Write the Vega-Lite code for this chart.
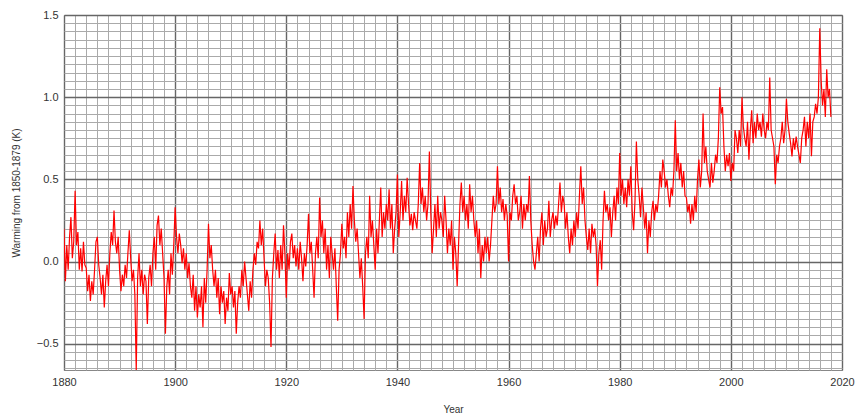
{
"$schema": "https://vega.github.io/schema/vega-lite/v6.json",
"width": 778, "height": 355,
"autosize": {"type": "none"},
"padding": {"left": 64, "top": 15, "right": 16, "bottom": 46},
"background": "white",
"config": {"view": {"stroke": "#888888", "strokeWidth": 1}, "font": "Liberation Sans"},
"data": {"values": [
{"t":1880,"v":0.20},{"t":1880.25,"v":-0.12},{"t":1880.5,"v":0.10},{"t":1880.75,"v":-0.05},
{"t":1881,"v":0.15},{"t":1881.25,"v":0.27},{"t":1881.5,"v":0.02},{"t":1881.75,"v":0.12},
{"t":1882,"v":0.43},{"t":1882.25,"v":0.10},{"t":1882.5,"v":0.18},{"t":1882.75,"v":-0.05},
{"t":1883,"v":0.08},{"t":1883.25,"v":-0.06},{"t":1883.5,"v":0.12},{"t":1883.75,"v":-0.02},
{"t":1884,"v":-0.04},{"t":1884.25,"v":-0.18},{"t":1884.5,"v":-0.08},{"t":1884.75,"v":-0.24},
{"t":1885,"v":-0.12},{"t":1885.25,"v":-0.20},{"t":1885.5,"v":-0.05},{"t":1885.75,"v":0.12},
{"t":1886,"v":0.15},{"t":1886.25,"v":-0.02},{"t":1886.5,"v":-0.10},{"t":1886.75,"v":-0.20},
{"t":1887,"v":-0.08},{"t":1887.25,"v":-0.28},{"t":1887.5,"v":-0.12},{"t":1887.75,"v":-0.02},
{"t":1888,"v":-0.15},{"t":1888.25,"v":0.05},{"t":1888.5,"v":0.18},{"t":1888.75,"v":0.10},
{"t":1889,"v":0.31},{"t":1889.25,"v":0.12},{"t":1889.5,"v":0.05},{"t":1889.75,"v":0.15},
{"t":1890,"v":-0.05},{"t":1890.25,"v":-0.18},{"t":1890.5,"v":-0.08},{"t":1890.75,"v":-0.15},
{"t":1891,"v":-0.02},{"t":1891.25,"v":-0.10},{"t":1891.5,"v":0.05},{"t":1891.75,"v":0.19},
{"t":1892,"v":0.02},{"t":1892.25,"v":-0.12},{"t":1892.5,"v":-0.05},{"t":1892.75,"v":-0.20},
{"t":1893,"v":-0.66},{"t":1893.25,"v":-0.10},{"t":1893.5,"v":0.05},{"t":1893.75,"v":-0.15},
{"t":1894,"v":-0.05},{"t":1894.25,"v":-0.20},{"t":1894.5,"v":-0.08},{"t":1894.75,"v":-0.12},
{"t":1895,"v":-0.38},{"t":1895.25,"v":-0.10},{"t":1895.5,"v":-0.02},{"t":1895.75,"v":-0.15},
{"t":1896,"v":0.05},{"t":1896.25,"v":0.15},{"t":1896.5,"v":-0.05},{"t":1896.75,"v":0.22},
{"t":1897,"v":0.28},{"t":1897.25,"v":0.10},{"t":1897.5,"v":0.20},{"t":1897.75,"v":0.05},
{"t":1898,"v":-0.10},{"t":1898.25,"v":-0.44},{"t":1898.5,"v":-0.15},{"t":1898.75,"v":-0.05},
{"t":1899,"v":-0.20},{"t":1899.25,"v":0.05},{"t":1899.5,"v":-0.08},{"t":1899.75,"v":0.10},
{"t":1900,"v":0.33},{"t":1900.25,"v":0.15},{"t":1900.5,"v":0.05},{"t":1900.75,"v":0.17},
{"t":1901,"v":0.10},{"t":1901.25,"v":-0.01},{"t":1901.5,"v":0.08},{"t":1901.75,"v":-0.05},
{"t":1902,"v":0.05},{"t":1902.25,"v":-0.10},{"t":1902.5,"v":-0.01},{"t":1902.75,"v":-0.15},
{"t":1903,"v":-0.22},{"t":1903.25,"v":-0.08},{"t":1903.5,"v":-0.30},{"t":1903.75,"v":-0.15},
{"t":1904,"v":-0.34},{"t":1904.25,"v":-0.20},{"t":1904.5,"v":-0.28},{"t":1904.75,"v":-0.15},
{"t":1905,"v":-0.40},{"t":1905.25,"v":-0.10},{"t":1905.5,"v":-0.25},{"t":1905.75,"v":-0.05},
{"t":1906,"v":0.23},{"t":1906.25,"v":0.02},{"t":1906.5,"v":0.10},{"t":1906.75,"v":-0.05},
{"t":1907,"v":-0.15},{"t":1907.25,"v":-0.05},{"t":1907.5,"v":-0.22},{"t":1907.75,"v":-0.10},
{"t":1908,"v":-0.32},{"t":1908.25,"v":-0.15},{"t":1908.5,"v":-0.25},{"t":1908.75,"v":-0.18},
{"t":1909,"v":-0.38},{"t":1909.25,"v":-0.22},{"t":1909.5,"v":-0.30},{"t":1909.75,"v":-0.07},
{"t":1910,"v":-0.20},{"t":1910.25,"v":-0.15},{"t":1910.5,"v":-0.28},{"t":1910.75,"v":-0.18},
{"t":1911,"v":-0.44},{"t":1911.25,"v":-0.25},{"t":1911.5,"v":-0.15},{"t":1911.75,"v":-0.22},
{"t":1912,"v":-0.05},{"t":1912.25,"v":-0.15},{"t":1912.5,"v":0.00},{"t":1912.75,"v":-0.10},
{"t":1913,"v":-0.20},{"t":1913.25,"v":-0.30},{"t":1913.5,"v":-0.12},{"t":1913.75,"v":-0.22},
{"t":1914,"v":-0.05},{"t":1914.25,"v":0.05},{"t":1914.5,"v":-0.02},{"t":1914.75,"v":0.12},
{"t":1915,"v":0.08},{"t":1915.25,"v":0.25},{"t":1915.5,"v":0.10},{"t":1915.75,"v":0.20},
{"t":1916,"v":0.02},{"t":1916.25,"v":-0.15},{"t":1916.5,"v":-0.05},{"t":1916.75,"v":-0.10},
{"t":1917,"v":-0.25},{"t":1917.25,"v":-0.52},{"t":1917.5,"v":-0.10},{"t":1917.75,"v":0.05},
{"t":1918,"v":0.17},{"t":1918.25,"v":-0.05},{"t":1918.5,"v":0.07},{"t":1918.75,"v":-0.10},
{"t":1919,"v":0.10},{"t":1919.25,"v":-0.05},{"t":1919.5,"v":0.22},{"t":1919.75,"v":0.05},
{"t":1920,"v":-0.22},{"t":1920.25,"v":0.05},{"t":1920.5,"v":-0.05},{"t":1920.75,"v":0.12},
{"t":1921,"v":0.17},{"t":1921.25,"v":0.02},{"t":1921.5,"v":0.10},{"t":1921.75,"v":-0.03},
{"t":1922,"v":0.08},{"t":1922.25,"v":-0.05},{"t":1922.5,"v":0.12},{"t":1922.75,"v":0.02},
{"t":1923,"v":-0.12},{"t":1923.25,"v":0.05},{"t":1923.5,"v":-0.03},{"t":1923.75,"v":0.10},
{"t":1924,"v":0.29},{"t":1924.25,"v":0.05},{"t":1924.5,"v":0.12},{"t":1924.75,"v":-0.05},
{"t":1925,"v":-0.22},{"t":1925.25,"v":0.05},{"t":1925.5,"v":0.15},{"t":1925.75,"v":0.02},
{"t":1926,"v":0.39},{"t":1926.25,"v":0.15},{"t":1926.5,"v":0.25},{"t":1926.75,"v":0.05},
{"t":1927,"v":0.20},{"t":1927.25,"v":-0.05},{"t":1927.5,"v":0.10},{"t":1927.75,"v":-0.10},
{"t":1928,"v":0.15},{"t":1928.25,"v":0.05},{"t":1928.5,"v":-0.05},{"t":1928.75,"v":0.08},
{"t":1929,"v":-0.15},{"t":1929.25,"v":-0.36},{"t":1929.5,"v":-0.05},{"t":1929.75,"v":0.05},
{"t":1930,"v":0.23},{"t":1930.25,"v":0.08},{"t":1930.5,"v":0.15},{"t":1930.75,"v":0.02},
{"t":1931,"v":0.30},{"t":1931.25,"v":0.15},{"t":1931.5,"v":0.35},{"t":1931.75,"v":0.20},
{"t":1932,"v":0.46},{"t":1932.25,"v":0.25},{"t":1932.5,"v":0.12},{"t":1932.75,"v":0.20},
{"t":1933,"v":0.05},{"t":1933.25,"v":-0.10},{"t":1933.5,"v":0.02},{"t":1933.75,"v":-0.15},
{"t":1934,"v":-0.35},{"t":1934.25,"v":0.05},{"t":1934.5,"v":0.15},{"t":1934.75,"v":0.02},
{"t":1935,"v":0.40},{"t":1935.25,"v":0.15},{"t":1935.5,"v":0.25},{"t":1935.75,"v":0.10},
{"t":1936,"v":-0.05},{"t":1936.25,"v":0.20},{"t":1936.5,"v":0.05},{"t":1936.75,"v":0.25},
{"t":1937,"v":0.45},{"t":1937.25,"v":0.15},{"t":1937.5,"v":0.30},{"t":1937.75,"v":0.20},
{"t":1938,"v":0.35},{"t":1938.25,"v":0.25},{"t":1938.5,"v":0.44},{"t":1938.75,"v":0.20},
{"t":1939,"v":0.35},{"t":1939.25,"v":0.05},{"t":1939.5,"v":0.20},{"t":1939.75,"v":0.30},
{"t":1940,"v":0.53},{"t":1940.25,"v":0.15},{"t":1940.5,"v":0.30},{"t":1940.75,"v":0.49},
{"t":1941,"v":0.25},{"t":1941.25,"v":0.40},{"t":1941.5,"v":0.30},{"t":1941.75,"v":0.51},
{"t":1942,"v":0.35},{"t":1942.25,"v":0.22},{"t":1942.5,"v":0.29},{"t":1942.75,"v":0.19},
{"t":1943,"v":0.30},{"t":1943.25,"v":0.25},{"t":1943.5,"v":0.20},{"t":1943.75,"v":0.35},
{"t":1944,"v":0.60},{"t":1944.25,"v":0.35},{"t":1944.5,"v":0.45},{"t":1944.75,"v":0.30},
{"t":1945,"v":0.40},{"t":1945.25,"v":0.25},{"t":1945.5,"v":0.35},{"t":1945.75,"v":0.67},
{"t":1946,"v":0.30},{"t":1946.25,"v":0.05},{"t":1946.5,"v":0.20},{"t":1946.75,"v":0.35},
{"t":1947,"v":0.15},{"t":1947.25,"v":0.40},{"t":1947.5,"v":0.20},{"t":1947.75,"v":0.30},
{"t":1948,"v":0.25},{"t":1948.25,"v":0.15},{"t":1948.5,"v":0.40},{"t":1948.75,"v":0.25},
{"t":1949,"v":0.05},{"t":1949.25,"v":0.20},{"t":1949.5,"v":0.10},{"t":1949.75,"v":0.25},
{"t":1950,"v":-0.05},{"t":1950.25,"v":0.15},{"t":1950.5,"v":0.05},{"t":1950.75,"v":-0.15},
{"t":1951,"v":0.10},{"t":1951.25,"v":0.35},{"t":1951.5,"v":0.48},{"t":1951.75,"v":0.30},
{"t":1952,"v":0.40},{"t":1952.25,"v":0.25},{"t":1952.5,"v":0.35},{"t":1952.75,"v":0.20},
{"t":1953,"v":0.47},{"t":1953.25,"v":0.30},{"t":1953.5,"v":0.40},{"t":1953.75,"v":0.25},
{"t":1954,"v":0.15},{"t":1954.25,"v":0.25},{"t":1954.5,"v":0.05},{"t":1954.75,"v":0.20},
{"t":1955,"v":-0.10},{"t":1955.25,"v":0.10},{"t":1955.5,"v":0.00},{"t":1955.75,"v":0.15},
{"t":1956,"v":0.05},{"t":1956.25,"v":0.15},{"t":1956.5,"v":0.00},{"t":1956.75,"v":0.10},
{"t":1957,"v":0.25},{"t":1957.25,"v":0.40},{"t":1957.5,"v":0.30},{"t":1957.75,"v":0.35},
{"t":1958,"v":0.58},{"t":1958.25,"v":0.35},{"t":1958.5,"v":0.45},{"t":1958.75,"v":0.30},
{"t":1959,"v":0.38},{"t":1959.25,"v":0.25},{"t":1959.5,"v":0.35},{"t":1959.75,"v":0.28},
{"t":1960,"v":0.00},{"t":1960.25,"v":0.30},{"t":1960.5,"v":0.25},{"t":1960.75,"v":0.40},
{"t":1961,"v":0.47},{"t":1961.25,"v":0.35},{"t":1961.5,"v":0.40},{"t":1961.75,"v":0.25},
{"t":1962,"v":0.30},{"t":1962.25,"v":0.40},{"t":1962.5,"v":0.20},{"t":1962.75,"v":0.35},
{"t":1963,"v":0.25},{"t":1963.25,"v":0.35},{"t":1963.5,"v":0.30},{"t":1963.75,"v":0.52},
{"t":1964,"v":0.25},{"t":1964.25,"v":0.10},{"t":1964.5,"v":0.00},{"t":1964.75,"v":-0.05},
{"t":1965,"v":0.05},{"t":1965.25,"v":0.15},{"t":1965.5,"v":0.00},{"t":1965.75,"v":0.20},
{"t":1966,"v":0.30},{"t":1966.25,"v":0.10},{"t":1966.5,"v":0.25},{"t":1966.75,"v":0.15},
{"t":1967,"v":0.20},{"t":1967.25,"v":0.37},{"t":1967.5,"v":0.15},{"t":1967.75,"v":0.25},
{"t":1968,"v":0.30},{"t":1968.25,"v":0.20},{"t":1968.5,"v":0.28},{"t":1968.75,"v":0.22},
{"t":1969,"v":0.35},{"t":1969.25,"v":0.48},{"t":1969.5,"v":0.30},{"t":1969.75,"v":0.40},
{"t":1970,"v":0.35},{"t":1970.25,"v":0.20},{"t":1970.5,"v":0.30},{"t":1970.75,"v":0.15},
{"t":1971,"v":0.05},{"t":1971.25,"v":0.20},{"t":1971.5,"v":0.10},{"t":1971.75,"v":0.25},
{"t":1972,"v":0.15},{"t":1972.25,"v":0.30},{"t":1972.5,"v":0.20},{"t":1972.75,"v":0.40},
{"t":1973,"v":0.58},{"t":1973.25,"v":0.35},{"t":1973.5,"v":0.45},{"t":1973.75,"v":0.25},
{"t":1974,"v":0.15},{"t":1974.25,"v":0.07},{"t":1974.5,"v":0.20},{"t":1974.75,"v":0.05},
{"t":1975,"v":0.23},{"t":1975.25,"v":0.15},{"t":1975.5,"v":0.20},{"t":1975.75,"v":0.10},
{"t":1976,"v":-0.15},{"t":1976.25,"v":0.05},{"t":1976.5,"v":0.13},{"t":1976.75,"v":-0.05},
{"t":1977,"v":0.25},{"t":1977.25,"v":0.43},{"t":1977.5,"v":0.30},{"t":1977.75,"v":0.35},
{"t":1978,"v":0.25},{"t":1978.25,"v":0.33},{"t":1978.5,"v":0.15},{"t":1978.75,"v":0.30},
{"t":1979,"v":0.40},{"t":1979.25,"v":0.25},{"t":1979.5,"v":0.45},{"t":1979.75,"v":0.35},
{"t":1980,"v":0.66},{"t":1980.25,"v":0.40},{"t":1980.5,"v":0.50},{"t":1980.75,"v":0.35},
{"t":1981,"v":0.45},{"t":1981.25,"v":0.33},{"t":1981.5,"v":0.50},{"t":1981.75,"v":0.40},
{"t":1982,"v":0.58},{"t":1982.25,"v":0.30},{"t":1982.5,"v":0.19},{"t":1982.75,"v":0.37},
{"t":1983,"v":0.73},{"t":1983.25,"v":0.50},{"t":1983.5,"v":0.40},{"t":1983.75,"v":0.27},
{"t":1984,"v":0.45},{"t":1984.25,"v":0.33},{"t":1984.5,"v":0.20},{"t":1984.75,"v":0.30},
{"t":1985,"v":0.05},{"t":1985.25,"v":0.25},{"t":1985.5,"v":0.15},{"t":1985.75,"v":0.30},
{"t":1986,"v":0.37},{"t":1986.25,"v":0.25},{"t":1986.5,"v":0.35},{"t":1986.75,"v":0.30},
{"t":1987,"v":0.40},{"t":1987.25,"v":0.55},{"t":1987.5,"v":0.45},{"t":1987.75,"v":0.62},
{"t":1988,"v":0.55},{"t":1988.25,"v":0.45},{"t":1988.5,"v":0.50},{"t":1988.75,"v":0.40},
{"t":1989,"v":0.33},{"t":1989.25,"v":0.45},{"t":1989.5,"v":0.40},{"t":1989.75,"v":0.55},
{"t":1990,"v":0.86},{"t":1990.25,"v":0.55},{"t":1990.5,"v":0.66},{"t":1990.75,"v":0.50},
{"t":1991,"v":0.60},{"t":1991.25,"v":0.45},{"t":1991.5,"v":0.55},{"t":1991.75,"v":0.40},
{"t":1992,"v":0.39},{"t":1992.25,"v":0.30},{"t":1992.5,"v":0.35},{"t":1992.75,"v":0.23},
{"t":1993,"v":0.35},{"t":1993.25,"v":0.25},{"t":1993.5,"v":0.40},{"t":1993.75,"v":0.30},
{"t":1994,"v":0.50},{"t":1994.25,"v":0.62},{"t":1994.5,"v":0.45},{"t":1994.75,"v":0.55},
{"t":1995,"v":0.90},{"t":1995.25,"v":0.60},{"t":1995.5,"v":0.70},{"t":1995.75,"v":0.55},
{"t":1996,"v":0.50},{"t":1996.25,"v":0.45},{"t":1996.5,"v":0.60},{"t":1996.75,"v":0.48},
{"t":1997,"v":0.55},{"t":1997.25,"v":0.65},{"t":1997.5,"v":0.60},{"t":1997.75,"v":0.75},
{"t":1998,"v":1.06},{"t":1998.25,"v":0.90},{"t":1998.5,"v":0.94},{"t":1998.75,"v":0.70},
{"t":1999,"v":0.55},{"t":1999.25,"v":0.65},{"t":1999.5,"v":0.58},{"t":1999.75,"v":0.66},
{"t":2000,"v":0.49},{"t":2000.25,"v":0.60},{"t":2000.5,"v":0.55},{"t":2000.75,"v":0.80},
{"t":2001,"v":0.75},{"t":2001.25,"v":0.66},{"t":2001.5,"v":0.80},{"t":2001.75,"v":0.70},
{"t":2002,"v":1.00},{"t":2002.25,"v":0.82},{"t":2002.5,"v":0.75},{"t":2002.75,"v":0.70},
{"t":2003,"v":0.85},{"t":2003.25,"v":0.62},{"t":2003.5,"v":0.80},{"t":2003.75,"v":0.92},
{"t":2004,"v":0.72},{"t":2004.25,"v":0.85},{"t":2004.5,"v":0.75},{"t":2004.75,"v":0.90},
{"t":2005,"v":0.80},{"t":2005.25,"v":0.85},{"t":2005.5,"v":0.76},{"t":2005.75,"v":0.90},
{"t":2006,"v":0.80},{"t":2006.25,"v":0.75},{"t":2006.5,"v":0.85},{"t":2006.75,"v":0.80},
{"t":2007,"v":1.12},{"t":2007.25,"v":0.80},{"t":2007.5,"v":0.75},{"t":2007.75,"v":0.70},
{"t":2008,"v":0.47},{"t":2008.25,"v":0.65},{"t":2008.5,"v":0.60},{"t":2008.75,"v":0.70},
{"t":2009,"v":0.75},{"t":2009.25,"v":0.85},{"t":2009.5,"v":0.72},{"t":2009.75,"v":0.80},
{"t":2010,"v":0.99},{"t":2010.25,"v":0.85},{"t":2010.5,"v":0.78},{"t":2010.75,"v":0.72},
{"t":2011,"v":0.64},{"t":2011.25,"v":0.75},{"t":2011.5,"v":0.68},{"t":2011.75,"v":0.76},
{"t":2012,"v":0.70},{"t":2012.25,"v":0.65},{"t":2012.5,"v":0.60},{"t":2012.75,"v":0.75},
{"t":2013,"v":0.80},{"t":2013.25,"v":0.88},{"t":2013.5,"v":0.70},{"t":2013.75,"v":0.85},
{"t":2014,"v":0.75},{"t":2014.25,"v":0.90},{"t":2014.5,"v":0.64},{"t":2014.75,"v":0.85},
{"t":2015,"v":0.88},{"t":2015.25,"v":0.96},{"t":2015.5,"v":0.90},{"t":2015.75,"v":1.00},
{"t":2016,"v":1.42},{"t":2016.25,"v":1.10},{"t":2016.5,"v":0.95},{"t":2016.75,"v":1.05},
{"t":2017,"v":0.88},{"t":2017.25,"v":1.17},{"t":2017.5,"v":1.00},{"t":2017.75,"v":1.05},
{"t":2018,"v":0.88}
]},
"mark": {"type": "line", "color": "#ff0000", "strokeWidth": 1.2, "clip": true},
"encoding": {
"x": {"field": "t", "type": "quantitative",
 "scale": {"domain": [1880, 2020], "nice": false, "zero": false},
 "axis": {"title": "Year", "titleFontSize": 10, "titleFontWeight": "normal", "titleColor": "#333333", "titlePadding": 17,
  "values": [1880,1882,1884,1886,1888,1890,1892,1894,1896,1898,1900,1902,1904,1906,1908,1910,1912,1914,1916,1918,1920,1922,1924,1926,1928,1930,1932,1934,1936,1938,1940,1942,1944,1946,1948,1950,1952,1954,1956,1958,1960,1962,1964,1966,1968,1970,1972,1974,1976,1978,1980,1982,1984,1986,1988,1990,1992,1994,1996,1998,2000,2002,2004,2006,2008,2010,2012,2014,2016,2018,2020],
  "format": "d", "labelExpr": "datum.value % 20 === 0 ? datum.label : ''",
  "labelOverlap": false, "labelFlush": false, "labelFontSize": 11, "labelColor": "#333333", "labelPadding": 6,
  "ticks": false, "domain": false,
  "gridColor": {"condition": {"test": "datum.value % 20 === 0", "value": "#666666"}, "value": "#aaaaaa"},
  "gridWidth": {"condition": {"test": "datum.value % 20 === 0", "value": 1.4}, "value": 1},
  "gridOpacity": 1}},
"y": {"field": "v", "type": "quantitative",
 "scale": {"domain": [-0.66, 1.5], "nice": false, "zero": false},
 "axis": {"title": "Warming from 1850-1879 (K)", "titleFontSize": 10, "titleFontWeight": "normal", "titleColor": "#333333", "titlePadding": 15,
  "values": [-0.65,-0.6,-0.55,-0.5,-0.45,-0.4,-0.35,-0.3,-0.25,-0.2,-0.15,-0.1,-0.05,0,0.05,0.1,0.15,0.2,0.25,0.3,0.35,0.4,0.45,0.5,0.55,0.6,0.65,0.7,0.75,0.8,0.85,0.9,0.95,1,1.05,1.1,1.15,1.2,1.25,1.3,1.35,1.4,1.45,1.5],
  "format": ".1f", "labelExpr": "abs(datum.value*2 - round(datum.value*2)) < 0.001 ? datum.label : ''",
  "labelOverlap": false, "labelFlush": false, "labelFontSize": 11, "labelColor": "#333333", "labelPadding": 6,
  "ticks": false, "domain": false,
  "gridColor": {"condition": {"test": "abs(datum.value*2 - round(datum.value*2)) < 0.001", "value": "#666666"}, "value": "#aaaaaa"},
  "gridWidth": {"condition": {"test": "abs(datum.value*2 - round(datum.value*2)) < 0.001", "value": 1.4}, "value": 1},
  "gridOpacity": 1}}
}
}
